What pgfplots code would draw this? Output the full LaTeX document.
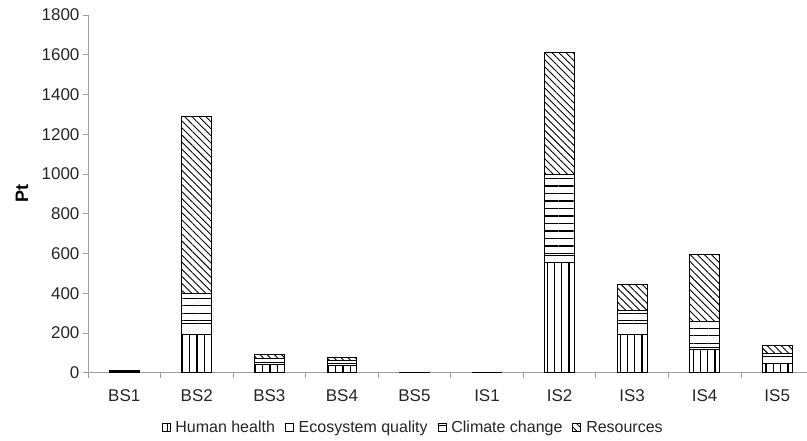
\documentclass[border=0pt]{standalone}
\usepackage{fontspec}
\setmainfont{Liberation Sans}
\usepackage{pgfplots}
\usepackage{pgfplotstable}
\pgfplotsset{compat=1.18}
\usetikzlibrary{patterns.meta,calc}

\pgfplotstableread{
x hh eq cc res
0 5 1 4 2
1 191 59 150 890
2 42 10 22 18
3 35 12 15 15
4 1 0.3 0.5 0.5
5 1 0.3 0.5 0.5
6 553 35 412 610
7 191 55 67 129
8 117 12 130 335
9 48 33 18 40
}\data

\begin{document}
\begin{tikzpicture}
\begin{axis}[name=ax, scale only axis, width=719pt, height=358pt,
  ybar stacked, bar width=29.8pt,
  xmin=-0.5, xmax=9.404, ymin=0, ymax=1800,
  ytick={0,200,...,1800},
  xtick={0,...,9},
  xticklabels={BS1,BS2,BS3,BS4,BS5,IS1,IS2,IS3,IS4,IS5},
  minor xtick={-0.5,0.5,...,8.5},
  axis x line*=bottom, axis y line*=left,
  axis line style={draw=gray!75, line width=0.9pt},
  tick align=outside, major tick length=5pt, minor tick length=5pt,
  tick style={draw=gray!75, line width=0.9pt},
  major x tick style={draw=none},
  /pgf/number format/assume math mode=true,
  /pgf/number format/1000 sep={},
  tick label style={font=\fontsize{17}{20}\selectfont, text=black!85},
  xticklabel style={yshift=-8pt},
  ylabel={Pt},
  ylabel style={at={(axis description cs:-0.0918,0.5)}, anchor=center, font=\bfseries\fontsize{18}{20}\selectfont},
  legend style={at={(axis description cs:0.098,-0.154)}, anchor=west, draw=none,
    legend columns=4, font=\fontsize{16}{18}\selectfont, text=black!85,
    /tikz/every odd column/.append style={column sep=3pt},
    /tikz/every even column/.append style={column sep=8pt}},
  legend image code/.code={\draw[#1,/tikz/.cd, line width=0.8pt] (0pt,-4pt) rectangle (8pt,4pt);},
]
\addplot[draw=black, line width=0.9pt, pattern color=black,
  pattern={Lines[angle=90,distance=7.3pt,line width=1.2pt]}] table[x=x,y=hh]{\data};
\addlegendentry{Human health}
\addplot[draw=black, line width=0.9pt, fill=white] table[x=x,y=eq]{\data};
\addlegendentry{Ecosystem quality}
\addplot[draw=black, line width=0.9pt, pattern color=black,
  pattern={Lines[angle=0,distance=7.5pt,line width=1.3pt]}] table[x=x,y=cc]{\data};
\addlegendentry{Climate change}
\addplot[draw=black, line width=0.9pt, pattern color=black,
  pattern={Lines[angle=-45,distance=5pt,line width=0.9pt]}] table[x=x,y=res]{\data};
\addlegendentry{Resources}
\end{axis}
\path ($(ax.south west)+(-88pt,-68pt)$) -- ($(ax.north east)+(0pt,15pt)$);
\end{tikzpicture}
\end{document}
